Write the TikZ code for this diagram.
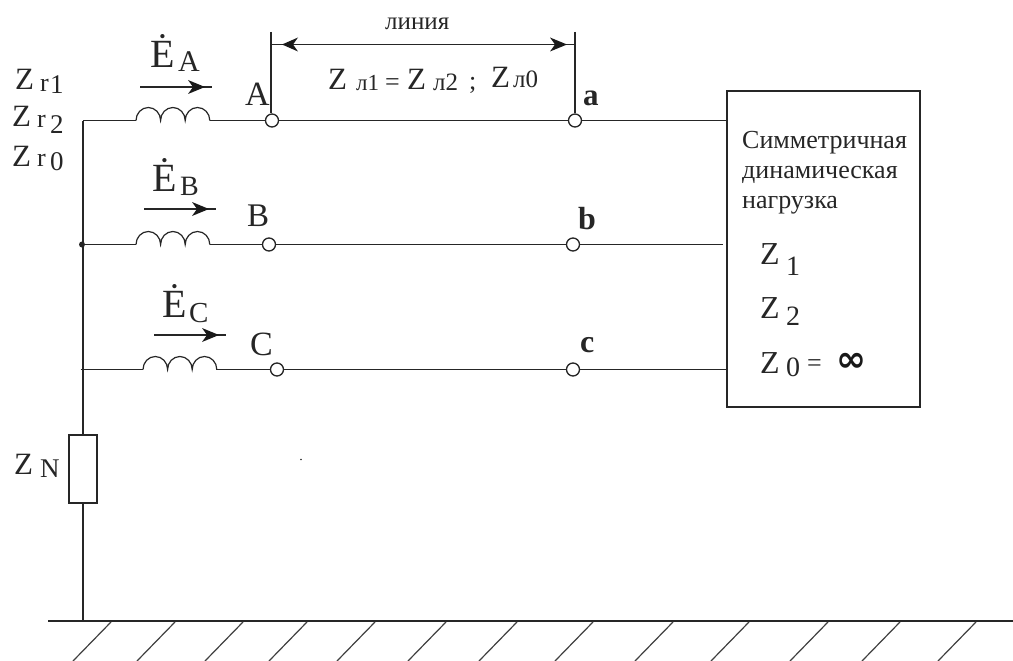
\documentclass[tikz,border=0pt]{standalone}
\usepackage{fontspec}
\setmainfont{Liberation Serif}
\newfontfamily\symfont{DejaVu Sans}
\tikzset{
  wire/.style={line width=1.7pt,black!85},
  term/.style={circle,draw=black!85,line width=1.3pt,fill=white,minimum size=13pt,inner sep=0pt},
  lab/.style={inner sep=0pt,anchor=base west,text=black!85},
  box/.style={draw=black!85,line width=1.6pt,fill=white,inner sep=0pt},
  hatch/.style={line width=1.2pt,black!75},
  headfill/.style={fill=black!90}
}
\newcommand{\coil}[2]{% start x, y
  \draw[wire,line width=1.2pt] (#1,#2) arc[start angle=180,end angle=0,x radius=12.3pt,y radius=13pt]
     arc[start angle=180,end angle=0,x radius=12.3pt,y radius=13pt]
     arc[start angle=180,end angle=0,x radius=12.3pt,y radius=13pt];}
\newcommand{\zlab}[4]{\node[lab,font=\fontsize{#3}{#3}\selectfont] at (#1,#2) {#4};}
\newcommand{\blab}[4]{\node[lab,font=\fontsize{#3}{#3}\selectfont\bfseries] at (#1,#2) {#4};}
\newcommand{\emfarrow}[2]{%
  \draw[wire] (#1,#2) -- ++(72,0);
  \fill[headfill] (#1,#2) ++(48,-7) -- ++(17,7) -- ++(-17,7) -- ++(5,-7) -- cycle;}
\begin{document}
\begin{tikzpicture}[x=1pt,y=-1pt]
\useasboundingbox[fill=white] (0,0) rectangle (1013,661);
% nodes
\node[term] (A) at (272,120.5) {};
\node[term] (a) at (575,120.5) {};
\node[term] (B) at (269,244.5) {};
\node[term] (b) at (573,244.5) {};
\node[term] (C) at (277,369.5) {};
\node[term] (c) at (573,369.5) {};
\node[box,minimum width=193pt,minimum height=316pt] (load) at (823.5,249) {};
\node[box,minimum width=28pt,minimum height=68pt] (ZN) at (83,469) {};
\coordinate (J) at (83,120.5);
\coordinate (JB) at (83,244.5);
\coordinate (LA1) at (136,120.5);
\coordinate (LA2) at (210,120.5);
\coordinate (LB1) at (136,244.5);
\coordinate (LB2) at (210,244.5);
\coordinate (LC1) at (143,369.5);
\coordinate (LC2) at (216,369.5);
\coordinate (G) at (83,621);
\coordinate (GL) at (48,621);
\coordinate (GR) at (1013,621);
\coordinate (TA) at (271,32);
\coordinate (Ta) at (575,32);
\coordinate (DA) at (271,44.5);
\coordinate (Da) at (575,44.5);
% wires
\draw[wire] (J) -- (LA1);
\draw[wire] (LA2) -- (A);
\draw[wire] (A) -- (a);
\draw[wire] (a) -- (load.west |- a);
\draw[wire] (JB) -- (LB1);
\draw[wire] (LB2) -- (B);
\draw[wire] (B) -- (b);
\draw[wire] (b) -- (723,244.5);
\draw[wire] (80.5,369.5) -- (LC1);
\draw[wire] (LC2) -- (C);
\draw[wire] (C) -- (c);
\draw[wire] (c) -- (load.west |- c);
\draw[wire] (J) -- (ZN.north);
\draw[wire] (ZN.south) -- (G);
\draw[wire] (GL) -- (GR);
\fill[black!85] (JB) ++(-1,0) circle (3pt);
\fill[black!85] (301,459.5) circle (0.8pt);
\coil{136}{120.5}
\coil{136}{244.5}
\coil{143}{369.5}
% dimension
\draw[wire] (TA) -- (A.north -| TA);
\draw[wire] (Ta) -- (a.north);
\draw[wire] (DA) -- (Da);
\fill[headfill] (298,37.5) -- (282,44.5) -- (298,51.5) -- (293,44.5) -- cycle;
\fill[headfill] (550,37.5) -- (567,44.5) -- (550,51.5) -- (555,44.5) -- cycle;
% emf arrows
\emfarrow{140}{87}
\emfarrow{144}{209}
\emfarrow{154}{335}
% hatching
\foreach \x in {111,175,243,307,375,446,517,593,673,749,828,900,976}
  \draw[hatch] (\x,622) -- (\x-38,661);
% labels
\zlab{150}{67}{40}{Ė}
\zlab{178}{72}{30}{A}
\zlab{152}{191}{40}{Ė}
\zlab{180}{195}{28}{B}
\zlab{162}{317}{40}{Ė}
\zlab{189}{322}{29}{C}
\zlab{245}{106}{34}{A}
\zlab{247}{226}{33}{B}
\zlab{250}{355}{34}{C}
\blab{583}{106}{31}{a}
\blab{578}{229}{32}{b}
\blab{580}{352}{32}{c}
\zlab{15}{90}{31}{Z}
\zlab{40}{91.5}{26}{r}
\zlab{50}{94}{27}{1}
\zlab{12}{126}{31}{Z}
\zlab{37}{128}{26}{r}
\zlab{50}{133}{27}{2}
\zlab{12}{166}{31}{Z}
\zlab{37}{166}{26}{r}
\zlab{50}{170}{27}{0}
\zlab{14}{474}{31}{Z}
\zlab{40}{477}{27}{N}
\zlab{328}{90}{31}{Z}
\zlab{356}{91}{23}{л1}
\zlab{385}{91}{26}{=}
\zlab{407}{90}{31}{Z}
\zlab{433}{91}{25}{л2}
\zlab{469}{89}{26}{;}
\zlab{491}{88}{31}{Z}
\zlab{513}{88}{25}{л0}
\zlab{385}{30}{25}{линия}
\zlab{742}{148}{26}{Симметричная}
\zlab{742}{178}{26}{динамическая}
\zlab{742}{208}{26}{нагрузка}
\zlab{760}{264}{32}{Z}
\zlab{786}{275}{28}{1}
\zlab{760}{318}{32}{Z}
\zlab{786}{325}{28}{2}
\zlab{760}{373}{32}{Z}
\zlab{786}{376}{28}{0}
\zlab{807}{371}{26}{=}
\node[inner sep=0pt,text=black!90,font=\fontsize{36}{36}\selectfont\symfont\bfseries] (inf) at (851,362) {∞};
\end{tikzpicture}
\end{document}
